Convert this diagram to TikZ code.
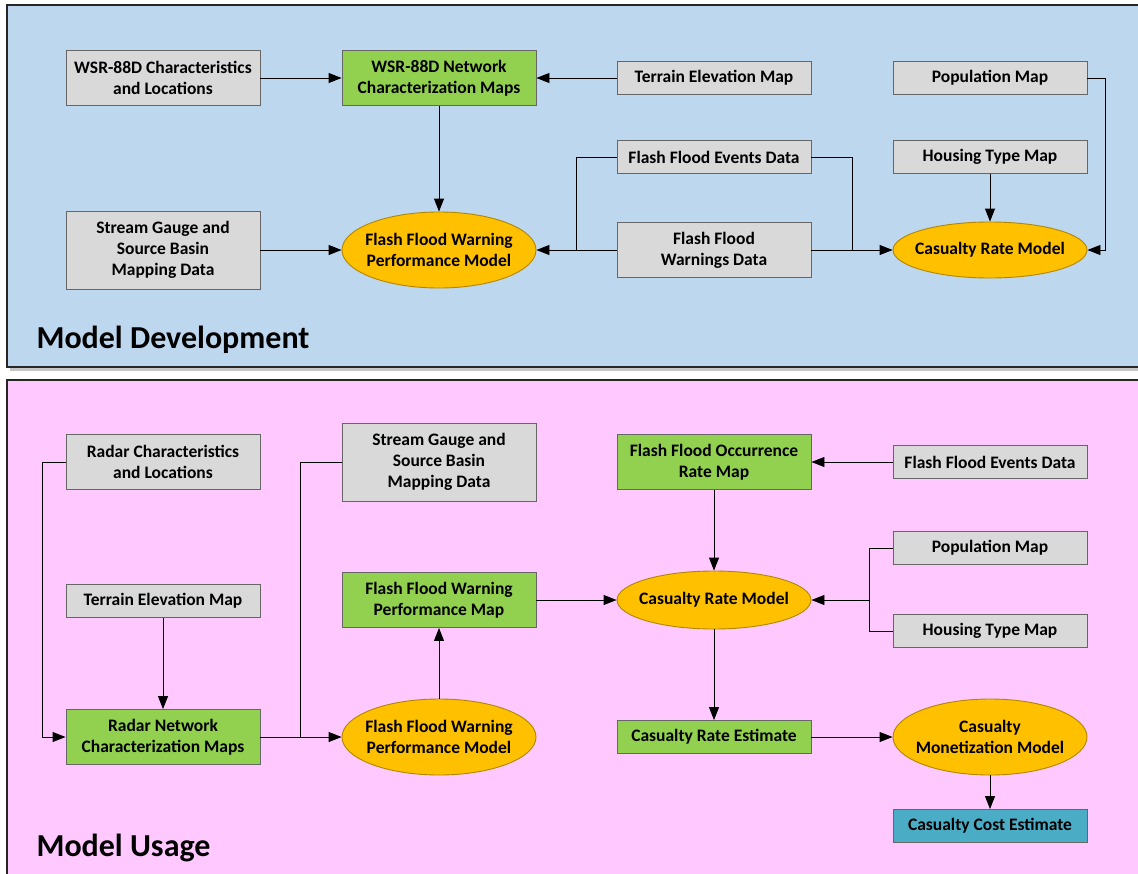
\documentclass[tikz,border=0pt]{standalone}
\usepackage{fontspec}
\setmainfont{Carlito}
\usetikzlibrary{arrows.meta,shapes.geometric,calc}

\definecolor{devblue}{HTML}{BDD7EE}
\definecolor{usepink}{HTML}{FFC9FF}
\definecolor{datagray}{HTML}{D9D9D9}
\definecolor{mapgreen}{HTML}{92D050}
\definecolor{modelgold}{HTML}{FFC000}
\definecolor{costteal}{HTML}{4BACC6}

\tikzset{
  box/.style={draw=gray!80!black, fill=datagray, line width=0.9pt, align=center,
    font=\fontsize{17.5}{21}\selectfont\bfseries, minimum width=194pt, minimum height=33pt, inner sep=0pt},
  mapbox/.style={box, fill=mapgreen},
  costbox/.style={box, fill=costteal},
  model/.style={ellipse, draw=modelgold!70!black, fill=modelgold, line width=0.9pt, align=center,
    font=\fontsize{17.5}{21}\selectfont\bfseries, minimum width=194pt, minimum height=76pt,
    inner xsep=-9pt, inner ysep=0pt},
  arr/.style={-{Triangle[length=13pt,width=10pt]}, line width=0.9pt},
  panel/.style={draw=black!85, line width=1.3pt},
  title/.style={anchor=base west, font=\fontsize{32}{38}\selectfont\bfseries}
}

\begin{document}
\begin{tikzpicture}[x=1pt, y=-1pt]
  \useasboundingbox (0,0) rectangle (1138,873);

  % Paneles de fondo
  \fill[gray!45] (10,8) rectangle (1150,371);
  \draw[panel, fill=devblue] (7,5) rectangle (1150,367);
  \fill[gray!45] (10,383) rectangle (1150,880);
  \draw[panel, fill=usepink] (7,380) rectangle (1150,880);
  \node[title] (devlabel) at (33,348) {Model Development};
  \node[title] (uselabel) at (33,856) {Model Usage};

  % Model development
  \node[box, minimum height=55pt] (dwsr) at (163,78) {WSR-88D Characteristics\\and Locations};
  \node[mapbox, minimum height=55pt] (dnet) at (439,78) {WSR-88D Network\\Characterization Maps};
  \node[box] (dter) at (714,78) {Terrain Elevation Map};
  \node[box] (dpop) at (990,78) {Population Map};
  \node[box, minimum height=78pt] (dgauge) at (163,250) {Stream Gauge and\\Source Basin\\Mapping Data};
  \node[model] (dffw) at (439,250) {Flash Flood Warning\\Performance Model};
  \node[box] (dev) at (714,157) {Flash Flood Events Data};
  \node[box, minimum height=55pt] (dwarn) at (714,250) {Flash Flood\\Warnings Data};
  \node[box] (dhouse) at (990,157) {Housing Type Map};
  \node[model, minimum height=56pt] (dcas) at (990,250) {Casualty Rate Model};

  \coordinate (dj1) at (576,250);
  \coordinate (dj2) at (852,250);
  \coordinate (dj3) at (1105,78);

  \draw[arr] (dwsr) -- (dnet);
  \draw[arr] (dter) -- (dnet);
  \draw[arr] (dnet) -- (dffw);
  \draw[arr] (dgauge) -- (dffw);
  \draw[arr] (dwarn) -- (dffw);
  \draw[line width=0.9pt] (dev.west) -| (dj1);
  \draw[arr] (dwarn) -- (dcas);
  \draw[line width=0.9pt] (dev.east) -| (dj2);
  \draw[arr] (dhouse) -- (dcas);
  \draw[arr] (dpop.east) -- (dj3) |- (dcas.east);

  % Model usage
  \node[box, minimum height=55pt] (urad) at (163,462) {Radar Characteristics\\and Locations};
  \node[box, minimum height=78pt] (ugauge) at (439,462) {Stream Gauge and\\Source Basin\\Mapping Data};
  \node[mapbox, minimum height=55pt] (uocc) at (714,462) {Flash Flood Occurrence\\Rate Map};
  \node[box] (uev) at (990,462) {Flash Flood Events Data};
  \node[box] (uter) at (163,601) {Terrain Elevation Map};
  \node[mapbox, minimum height=55pt] (uffmap) at (439,600) {Flash Flood Warning\\Performance Map};
  \node[model, minimum height=58pt] (ucas) at (714,600) {Casualty Rate Model};
  \node[box] (upop) at (990,548) {Population Map};
  \node[box] (uhouse) at (990,631) {Housing Type Map};
  \node[mapbox, minimum height=55pt] (unet) at (163,737) {Radar Network\\Characterization Maps};
  \node[model] (uffw) at (439,737) {Flash Flood Warning\\Performance Model};
  \node[mapbox] (uest) at (714,737) {Casualty Rate Estimate};
  \node[model] (umon) at (990,737) {Casualty\\Monetization Model};
  \node[costbox] (ucost) at (990,826) {Casualty Cost Estimate};

  \coordinate (uj1) at (42,462);
  \coordinate (uj2) at (300,737);
  \coordinate (uj3) at (869,600);

  \draw[arr] (urad.west) -- (uj1) |- (unet.west);
  \draw[arr] (uter) -- (unet);
  \draw[arr] (unet) -- (uffw);
  \draw[line width=0.9pt] (ugauge.west) -| (uj2);
  \draw[arr] (uffw) -- (uffmap);
  \draw[arr] (uffmap) -- (ucas);
  \draw[arr] (uev) -- (uocc);
  \draw[arr] (uocc) -- (ucas);
  \draw[line width=0.9pt] (upop.west) -| (uj3);
  \draw[line width=0.9pt] (uhouse.west) -| (uj3);
  \draw[arr] (uj3) -- (ucas.east);
  \draw[arr] (ucas) -- (uest);
  \draw[arr] (uest) -- (umon);
  \draw[arr] (umon) -- (ucost);
\end{tikzpicture}
\end{document}
